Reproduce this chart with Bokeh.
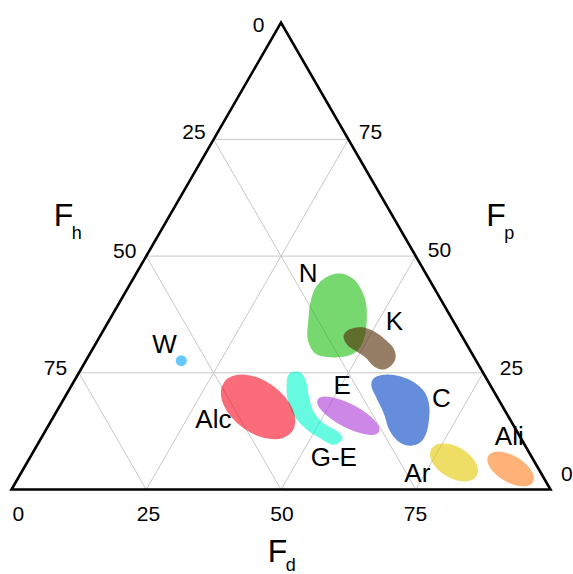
import math
from bokeh.plotting import figure
from bokeh.models import ColumnDataSource
from bokeh.core.properties import value
from bokeh.embed import file_html
from bokeh.resources import INLINE

# ---------------- DATA (ternary coordinates: Fd, Fp in %, Fh = 100 - Fd - Fp) ----------------
tick_values = [0, 25, 50, 75]
tick_labels = ["0", "25", "50", "75"]
grid_values = [25, 50, 75]

# irregular regions (outline points, Fd / Fp)
N_fd = [37.7, 40.7, 43.2, 45.7, 47.8, 49.2, 49.4, 48.2, 45.8, 42.8, 40.7, 38.5, 36.8, 35.4, 34.8, 35.6]
N_fp = [46.3, 45.2, 43.1, 40.1, 36.2, 32.6, 30.0, 28.7, 28.3, 28.7, 30.0, 32.8, 36.6, 40.1, 43.3, 45.4]

K_fd = [45.3, 45.2, 46.2, 48.0, 50.7, 53.6, 55.8, 57.2, 57.1, 56.0, 54.0, 51.5, 49.0, 46.9]
K_fp = [32.6, 33.9, 34.6, 34.7, 33.7, 31.9, 30.2, 28.1, 26.4, 25.7, 26.4, 28.3, 29.7, 30.9]

GE_fd = [40.0, 41.5, 43.4, 45.3, 47.8, 50.8, 54.0, 55.8, 55.8, 54.7, 51.9, 48.1, 44.4, 41.7, 39.7, 39.1]
GE_fp = [25.3, 24.8, 22.7, 19.8, 16.6, 14.2, 12.6, 11.2, 10.1, 9.6, 10.9, 13.0, 15.9, 19.1, 22.7, 24.6]

C_fd = [55.5, 58.0, 61.6, 64.9, 67.2, 69.1, 70.8, 70.8, 69.0, 66.3, 63.5, 61.0, 58.1, 55.6]
C_fp = [24.1, 24.6, 23.7, 21.9, 19.8, 16.9, 12.6, 10.1, 9.4, 10.5, 13.0, 16.2, 19.4, 22.3]

# elliptical regions (centre Fd / Fp, extent along the long and short axis, tilt in degrees)
ell_names = ["Alc", "E", "Ar", "Ali"]
ell_fd = [36.9, 54.6, 79.2, 90.4]
ell_fp = [17.7, 15.8, 5.8, 4.4]
ell_long = [15.6, 12.9, 9.8, 9.6]
ell_short = [9.6, 4.4, 5.8, 4.9]
ell_tilt = [-35.9, -27.6, -30.7, -30.6]

# water point
W_fd = [17.7]
W_fp = [27.6]

# region labels (text anchor, Fd / Fp)
label_text = ["N", "K", "W", "E", "C", "Alc", "G-E", "Ar", "Ali"]
label_fd = [33.0, 54.2, 14.0, 51.3, 71.1, 31.1, 57.5, 74.7, 87.8]
label_fp = [44.1, 33.7, 28.8, 20.1, 17.3, 12.7, 4.6, 1.2, 9.1]

# ---------------- LAYOUT / STYLE ----------------
S = math.sqrt(3) / 2
PX = 5.39  # pixels per data unit
W_PLOT, H_PLOT = 573, 574
x0 = -11 / PX
y0 = -(H_PLOT - 489) / PX
FONT = value("Liberation Sans")

colors = {
    "N": "#1bbe0d", "K": "#502800", "G-E": "#00f7cd", "C": "#003fc5",
    "Alc": "#f70a21", "E": "#ac37d5", "Ar": "#e3c800", "Ali": "#ff7f1e", "W": "#00a3ff",
}
ALPHA = 0.6


def tern(fd, fp):
    return [a + b / 2 for a, b in zip(fd, fp)], [b * S for b in fp]


def smooth_closed(xs, ys, n=10):
    pts = list(zip(xs, ys))
    m = len(pts)
    ox, oy = [], []
    for i in range(m):
        p0, p1, p2, p3 = pts[i - 1], pts[i], pts[(i + 1) % m], pts[(i + 2) % m]
        for k in range(n):
            t = k / n
            t2, t3 = t * t, t * t * t
            for idx, out in ((0, ox), (1, oy)):
                out.append(0.5 * (2 * p1[idx] + (-p0[idx] + p2[idx]) * t
                                  + (2 * p0[idx] - 5 * p1[idx] + 4 * p2[idx] - p3[idx]) * t2
                                  + (-p0[idx] + 3 * p1[idx] - 3 * p2[idx] + p3[idx]) * t3))
    return ox, oy


p = figure(width=W_PLOT, height=H_PLOT,
           x_range=(x0, x0 + W_PLOT / PX), y_range=(y0, y0 + H_PLOT / PX),
           output_backend="svg", toolbar_location=None, min_border=0)
p.axis.visible = False
p.grid.visible = False
p.outline_line_color = None
p.background_fill_color = "white"

# grid lines
gx, gy = [], []
for t in grid_values:
    a = tern([0, 100 - t], [t, t])          # constant Fp
    b = tern([t, t], [0, 100 - t])          # constant Fd
    c = tern([100 - t, 0], [0, 100 - t])    # constant Fh
    for seg in (a, b, c):
        gx.append(seg[0])
        gy.append(seg[1])
p.multi_line(gx, gy, line_color="#c8c8c8", line_width=1)

# irregular regions
for name, fd, fp in (("N", N_fd, N_fp), ("K", K_fd, K_fp),
                     ("G-E", GE_fd, GE_fp), ("C", C_fd, C_fp)):
    cx, cy = tern(fd, fp)
    sx, sy = smooth_closed(cx, cy)
    p.patch(sx, sy, fill_color=colors[name], fill_alpha=ALPHA, line_color=None)

# elliptical regions
ex, ey = tern(ell_fd, ell_fp)
p.ellipse(x=ex, y=ey, width=ell_long, height=ell_short, angle=ell_tilt, angle_units="deg",
          fill_color=[colors[n] for n in ell_names], fill_alpha=ALPHA, line_color=None)

# water
wx, wy = tern(W_fd, W_fp)
p.scatter(wx, wy, size=11, fill_color=colors["W"], fill_alpha=ALPHA, line_color=None)

# triangle
tx, ty = tern([0, 100, 0], [0, 0, 100])
p.patch(tx, ty, fill_color=None, line_color="black", line_width=2.6, line_join="miter")

# tick labels
bx, by = tern(tick_values, [0] * 4)                               # Fd axis (bottom)
lx, ly = tern([0] * 4, [100 - v for v in tick_values])            # Fh axis (left)
rx, ry = tern([100 - v for v in [75, 50, 25, 0]], [75, 50, 25, 0])  # Fp axis (right)
TICK_SHIFT = -7.5
tick_src = ColumnDataSource(dict(
    x=bx + lx + rx,
    y=by + ly + ry,
    text=tick_labels + tick_labels + ["75", "50", "25", "0"],
    xo=[6.8, 2.3, 0.9, -0.3] + [-22.5, -19.7, -21.5, -23.4] + [22.0, 23.8, 28.4, 16.4],
    yo=[v + TICK_SHIFT for v in [31.5] * 4 + [9.5, 0.2, 2.4, 2.3] + [0.3, 1.7, 2.3, -8.0]],
))
p.text(x="x", y="y", text="text", x_offset="xo", y_offset="yo", source=tick_src,
       text_font=FONT, text_font_size="21px", text_align="center",
       text_baseline="alphabetic", text_color="black")

# axis titles: F + subscript, anchored at edge midpoints
mid_left = tern([0], [50])
mid_right = tern([50], [50])
mid_bottom = tern([50], [0])
titles = [(mid_left, "h", -92.5, -25.6, 2.0), (mid_right, "p", 70.5, -25.6, 2.0),
          (mid_bottom, "d", -13.2, 77.0, -2.0)]
for (mx, my), sub, dx, dy, sdy in titles:
    p.text(x=mx, y=my, text=["F"], x_offset=dx, y_offset=dy - 15.5, text_font=FONT,
           text_font_size="32px", text_align="left", text_baseline="alphabetic", text_color="black")
    p.text(x=mx, y=my, text=[sub], x_offset=dx + 18.0, y_offset=dy + sdy, text_font=FONT,
           text_font_size="18px", text_align="left", text_baseline="alphabetic", text_color="black")

# region labels
lbx, lby = tern(label_fd, label_fp)
p.text(x=lbx, y=lby, text=label_text, y_offset=-11, text_font=FONT, text_font_size="26px",
       text_align="center", text_baseline="alphabetic", text_color="black")

open("out.html", "w").write(file_html(p, INLINE))
